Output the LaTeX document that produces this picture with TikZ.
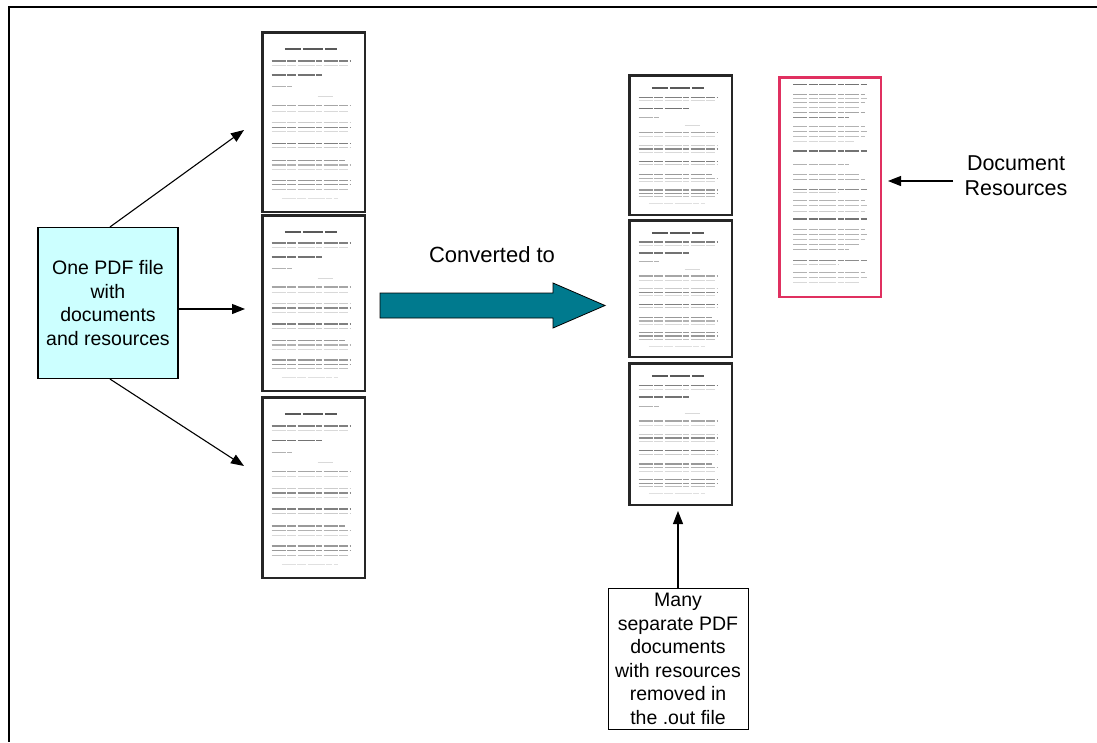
\documentclass[tikz,border=0pt]{standalone}
\usepackage{fontspec}
\setmainfont{Liberation Sans}
\usetikzlibrary{arrows.meta}
\definecolor{boxcyan}{HTML}{CCFFFF}
\definecolor{arrowteal}{HTML}{007A8E}
\definecolor{pinkborder}{HTML}{E03060}
\tikzset{
  pagebox/.style={draw=black!85, line width=2.6pt, fill=white, inner sep=0pt, anchor=north west},
  pinkbox/.style={draw=pinkborder, line width=2.6pt, fill=white, inner sep=0pt, anchor=north west},
  words/.style={dash pattern=on 14pt off 1.5pt on 9pt off 1.5pt on 17pt off 1.5pt on 6pt off 1.5pt},
  txt/.style={font=\fontsize{19.5}{23.5}\selectfont, align=center},
  bigtxt/.style={font=\fontsize{22}{25}\selectfont, align=center},
  conn/.style={-{Triangle[length=13pt,width=10pt]}, line width=1.1pt},
}
\newcommand\docpage[5]{%
  \node[pagebox, minimum width=#4pt, minimum height=#5pt] (#1) at (#2,#3) {};
  \begin{scope}[shift={(#2,#3)}, x=#4pt, y=-#5pt]
    \draw[black!65, line width=2pt, dash pattern=on 16pt off 2pt on 20pt off 2pt] (0.23,0.10)--(0.74,0.10);
    \foreach \yy/\sh/\xe/\lw in {0.165/50/0.88/1.5, 0.19/15/0.85/1, 0.245/55/0.60/1.8, 0.31/30/0.30/1,
      0.415/35/0.88/1.3, 0.445/15/0.85/1, 0.51/20/0.88/1, 0.535/45/0.88/1.4, 0.56/15/0.85/1,
      0.625/50/0.88/1.5, 0.65/20/0.88/1, 0.72/40/0.82/1.4, 0.745/30/0.88/1.2, 0.77/15/0.85/1,
      0.83/40/0.88/1.4, 0.855/40/0.88/1.4, 0.88/25/0.85/1}
      {\draw[black!\sh, line width=\lw pt, words] (0.10,\yy)--(\xe,\yy);}
    \draw[black!15, line width=1pt] (0.55,0.365)--(0.70,0.365);
    \draw[black!12, line width=1pt, words] (0.20,0.93)--(0.75,0.93);
  \end{scope}}
\begin{document}
\begin{tikzpicture}[x=1pt,y=-1pt]
\useasboundingbox (0,0) rectangle (1097,742);
\fill[white] (0,0) rectangle (1097,742);
% frame (top and left edges)
\draw[line width=1.1pt] (1097,7) -- (9,7) -- (9,742);

% left pages
\docpage{L1}{261.3}{31.3}{102.4}{179.4}
\docpage{L2}{261.3}{214.3}{102.4}{175.4}
\docpage{L3}{261.3}{396.3}{102.4}{180.4}

% middle pages
\docpage{M1}{628.3}{74.3}{102.4}{139.4}
\docpage{M2}{628.3}{219.3}{102.4}{136.4}
\docpage{M3}{628.3}{362.3}{102.4}{141.4}

% pink resources page
\node[pinkbox, minimum width=101.4pt, minimum height=219.4pt] (P) at (778.3,76.3) {};
\begin{scope}[shift={(778.3,76.3)}, x=101.4pt, y=-219.4pt]
  \foreach \yy/\sh/\xe/\lw in {0.038/55/0.87/1.6, 0.083/35/0.85/1.1, 0.103/25/0.87/1, 0.121/30/0.85/1, 0.144/25/0.80/1,
    0.167/35/0.85/1.1, 0.186/45/0.70/1.2, 0.227/30/0.85/1, 0.25/30/0.87/1, 0.273/25/0.85/1, 0.295/15/0.75/1,
    0.341/55/0.87/1.6, 0.40/30/0.70/1.1, 0.447/30/0.80/1, 0.47/30/0.85/1, 0.515/45/0.87/1.3, 0.53/20/0.60/1,
    0.568/30/0.85/1, 0.59/25/0.87/1, 0.614/20/0.85/1,
    0.65/55/0.87/1.6, 0.697/30/0.85/1, 0.72/30/0.87/1, 0.742/25/0.85/1, 0.765/30/0.80/1, 0.788/30/0.70/1,
    0.84/45/0.87/1.3, 0.856/20/0.60/1, 0.894/30/0.85/1, 0.917/25/0.87/1, 0.94/15/0.80/1}
    {\draw[black!\sh, line width=\lw pt, words] (0.145,\yy)--(\xe,\yy);}
\end{scope}

% left box
\node[draw, line width=1.1pt, fill=boxcyan, minimum width=140pt, minimum height=151pt, inner sep=0pt, txt]
  (src) at (108,303) {One PDF file\\with\\documents\\and resources};

% arrow endpoints
\coordinate (t1) at (244,130);
\coordinate (t2) at (245,309);
\coordinate (t3) at (244,466);
\draw[conn] (src.north) ++(2,0) coordinate (s1) (s1) -- (t1);
\draw[conn] (src.east |- t2) -- (t2);
\draw[conn] (src.south) ++(2,0) coordinate (s3) (s3) -- (t3);

% big arrow
\draw[fill=arrowteal, line width=0.8pt] (380,293) -- (553,293) -- (553,283) -- (605,305.5) -- (553,328) -- (553,318) -- (380,318) -- cycle;
\node[bigtxt] (conv) at (492,255) {Converted to};

% bottom box
\node[draw, line width=1pt, minimum width=140pt, minimum height=141pt, inner sep=0pt, txt]
  (many) at (678,659) {Many\\separate PDF\\documents\\with resources\\removed in\\the .out file};
\coordinate (t4) at (678,511);
\draw[conn] (many.north) -- (t4);

% document resources label
\node[bigtxt, font=\fontsize{21.5}{25}\selectfont] (res) at (1016,176) {Document\\Resources};
\coordinate (t5) at (888,181);
\draw[conn] (953,181) coordinate (s5) (s5) -- (t5);
\end{tikzpicture}
\end{document}
